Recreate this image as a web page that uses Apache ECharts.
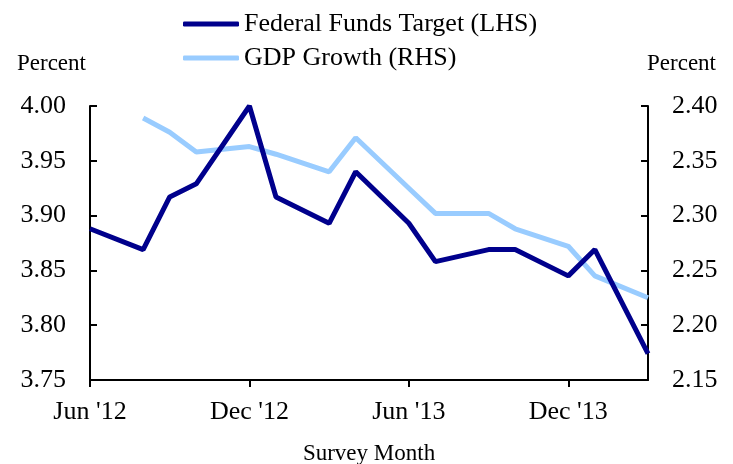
<!DOCTYPE html>
<html>
<head>
<meta charset="utf-8">
<script src="https://cdn.jsdelivr.net/npm/echarts@6/dist/echarts.min.js"></script>
<style>
  html, body { margin: 0; padding: 0; background: #fff; }
  #chart { width: 733px; height: 464px; }
</style>
</head>
<body>
<div id="chart"></div>
<script>
const months = ["Jun '12", "Jul '12", "Aug '12", "Sep '12", "Oct '12", "Nov '12", "Dec '12",
  "Jan '13", "Feb '13", "Mar '13", "Apr '13", "May '13", "Jun '13", "Jul '13", "Aug '13",
  "Sep '13", "Oct '13", "Nov '13", "Dec '13", "Jan '14", "Feb '14", "Mar '14"];

// survey months without an observation are null
const fedFunds = [3.888, null, 3.869, 3.917, 3.929, null, 4.00, 3.917, null, 3.893, 3.940, null,
  3.893, 3.858, null, 3.869, 3.869, null, 3.845, 3.869, null, 3.774];
const gdpGrowth = [null, null, 2.389, 2.376, 2.358, null, 2.363, 2.356, null, 2.340, 2.371, null,
  2.325, 2.302, null, 2.302, 2.288, null, 2.272, 2.245, null, 2.225];

const leftRange = [3.75, 4.00];
const rightRange = [2.15, 2.40];

const font = 'Liberation Serif';
const navy = '#00008C';
const lightBlue = '#99CCFF';

const chart = echarts.init(document.getElementById('chart'), null, { renderer: 'canvas' });

const axisLine = { show: true, lineStyle: { color: '#000', width: 2 } };

const option = {
  animation: false,
  grid: { left: 90, right: 85, top: 106, bottom: 84, containLabel: false, outerBoundsMode: 'none' },
  legend: {
    orient: 'vertical',
    left: 178,
    top: 6,
    itemWidth: 56,
    itemHeight: 5,
    itemGap: 8,
    icon: 'roundRect',
    textStyle: { fontFamily: font, fontSize: 26, color: '#000' },
    data: ['Federal Funds Target (LHS)', 'GDP Growth (RHS)']
  },
  graphic: [
    { type: 'text', left: 17, top: 52, style: { text: 'Percent', font: '23px "Liberation Serif"', fill: '#000' } },
    { type: 'text', right: 17, top: 52, style: { text: 'Percent', font: '23px "Liberation Serif"', fill: '#000' } }
  ],
  xAxis: {
    type: 'category',
    data: months,
    boundaryGap: false,
    name: 'Survey Month',
    nameLocation: 'middle',
    nameGap: 62,
    nameTextStyle: { fontFamily: font, fontSize: 23, color: '#000' },
    axisLine: axisLine,
    axisTick: { show: true, interval: 5, length: 7, inside: false, lineStyle: { color: '#000', width: 2 } },
    axisLabel: { interval: 5, margin: 19, fontFamily: font, fontSize: 26, color: '#000' },
    splitLine: { show: false }
  },
  yAxis: [
    {
      type: 'value',
      min: leftRange[0],
      max: leftRange[1],
      interval: 0.05,
      position: 'left',
      axisLine: axisLine,
      axisTick: { show: true, inside: true, length: 7, lineStyle: { color: '#000', width: 2 } },
      axisLabel: { margin: 24, fontFamily: font, fontSize: 26, color: '#000', formatter: v => v.toFixed(2) },
      splitLine: { show: false }
    },
    {
      type: 'value',
      min: rightRange[0],
      max: rightRange[1],
      interval: 0.05,
      position: 'right',
      axisLine: axisLine,
      axisTick: { show: true, inside: true, length: 7, lineStyle: { color: '#000', width: 2 } },
      axisLabel: { margin: 24, fontFamily: font, fontSize: 26, color: '#000', formatter: v => v.toFixed(2) },
      splitLine: { show: false }
    }
  ],
  series: [
    {
      name: 'GDP Growth (RHS)',
      type: 'line',
      yAxisIndex: 1,
      data: gdpGrowth,
      connectNulls: true,
      showSymbol: false,
      symbol: 'none',
      color: lightBlue,
      lineStyle: { color: lightBlue, width: 5 },
      z: 2
    },
    {
      name: 'Federal Funds Target (LHS)',
      type: 'line',
      yAxisIndex: 0,
      data: fedFunds,
      connectNulls: true,
      showSymbol: false,
      symbol: 'none',
      color: navy,
      lineStyle: { color: navy, width: 5 },
      z: 3
    }
  ]
};

chart.setOption(option);
</script>
</body>
</html>
